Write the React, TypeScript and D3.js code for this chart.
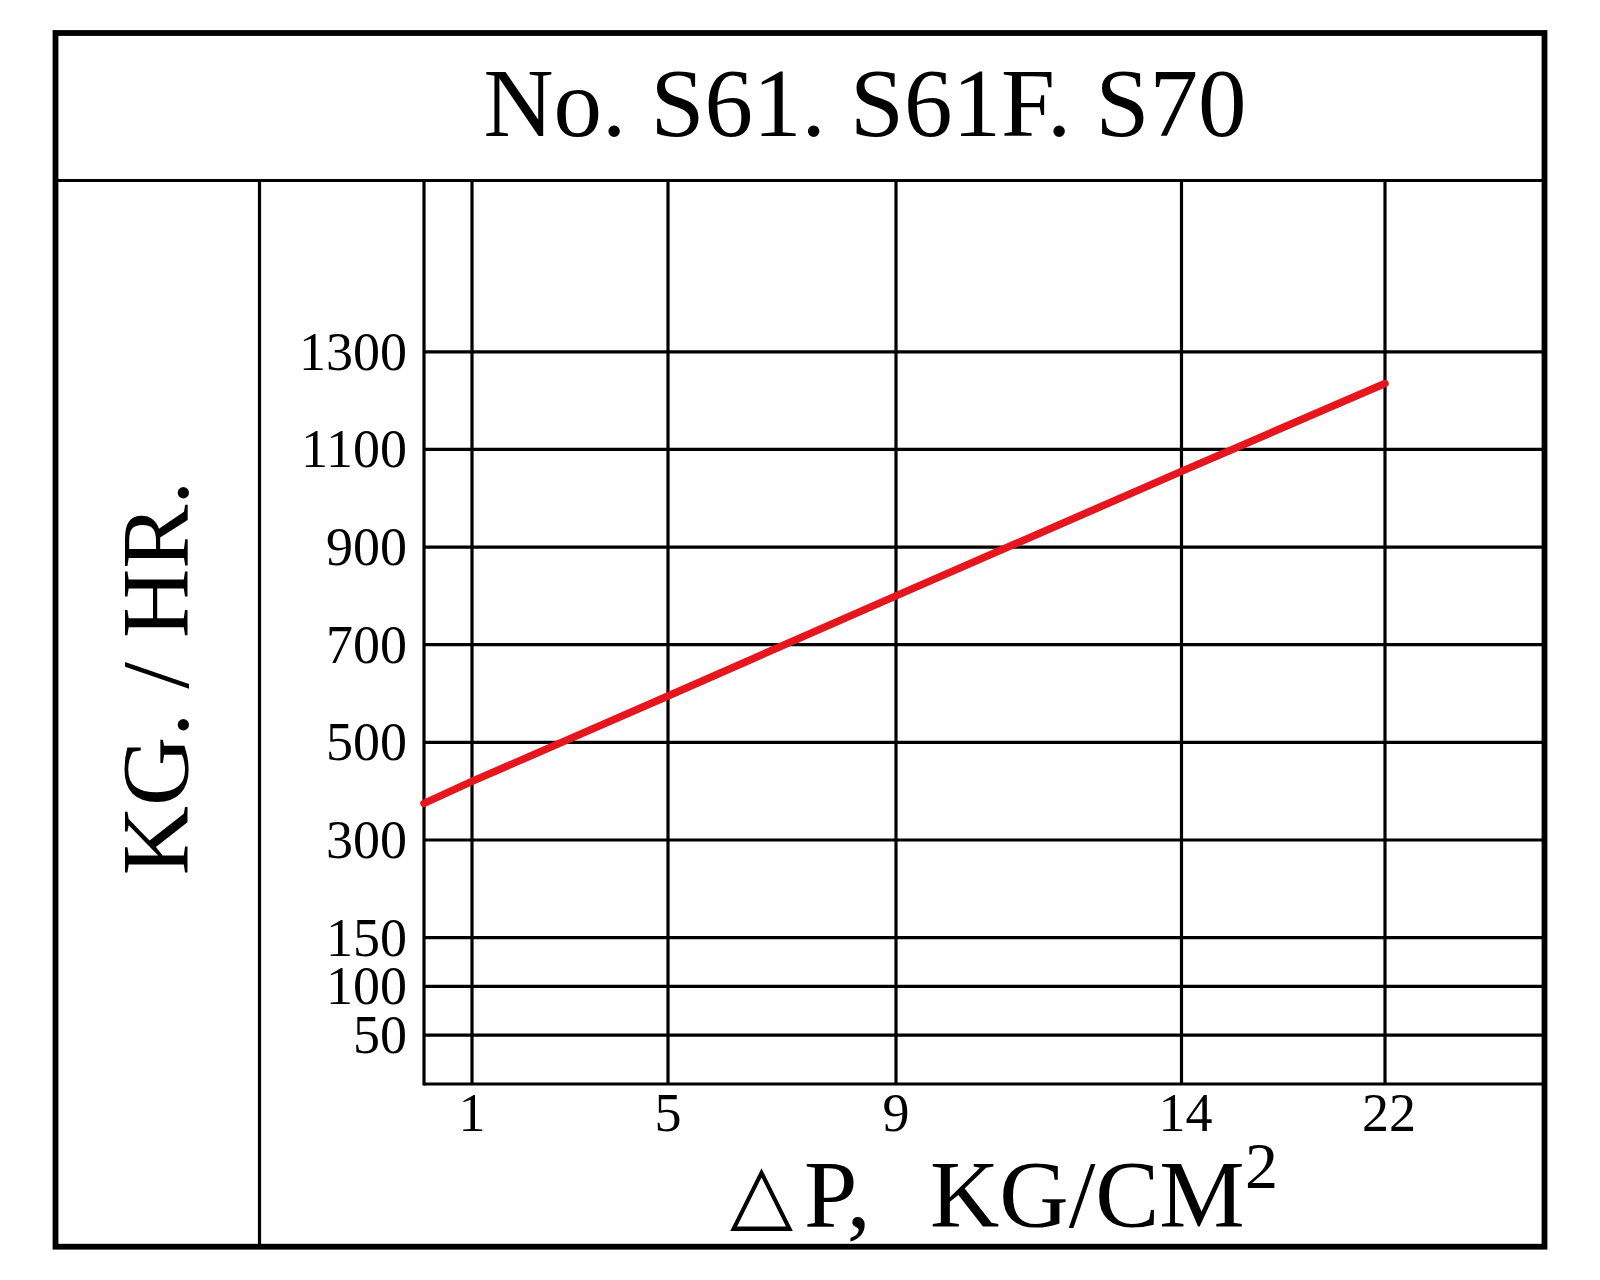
import React from "react";
import * as d3 from "d3";

// ---- data ----
const titleText = "No. S61. S61F. S70";
const yAxisLabel = "KG. / HR.";
const xTicks = [1, 5, 9, 14, 22];
const yTicks = [50, 100, 150, 300, 500, 700, 900, 1100, 1300];
const flowX = [0, 1, 5, 9, 14, 22];
const flowY = [375, 420, 595, 800, 1055, 1235];

// ---- layout ----
const W = 1600;
const H = 1280;
const frame = { x0: 55.5, y0: 33, x1: 1544.5, y1: 1246.7 };
const titleDivY = 180.5;
const labelColX = 259.5;
const plot = { left: 424, top: 180.5, right: 1544.5, bottom: 1084 };

// non-uniform chart paper scales (piecewise linear)
const xScale = d3
  .scaleLinear()
  .domain([0, 1, 5, 9, 14, 22])
  .range([424, 472, 668, 896, 1181.5, 1385]);
const yScale = d3
  .scaleLinear()
  .domain([0, 150, 300, 1300])
  .range([1084, 937.6, 840, 351.8]);

const SERIF = "'Liberation Serif', 'Times New Roman', Times, serif";
const GRID_W = 3.2;

export default function App() {
  const pts: [number, number][] = flowX.map((x, i) => [x, flowY[i]]);
  const lineGen = d3
    .line<[number, number]>()
    .x((d) => xScale(d[0]))
    .y((d) => yScale(d[1]));

  return (
    <svg
      width={W}
      height={H}
      viewBox={`0 0 ${W} ${H}`}
      style={{ position: "absolute", left: 0, top: 0, display: "block", background: "#fff" }}
    >
      <rect x={0} y={0} width={W} height={H} fill="#fff" />

      {/* grid: horizontal */}
      {yTicks.map((t) => (
        <line
          key={`h${t}`}
          x1={plot.left}
          x2={plot.right}
          y1={yScale(t)}
          y2={yScale(t)}
          stroke="#000"
          strokeWidth={GRID_W}
        />
      ))}
      {/* grid: vertical */}
      {xTicks.map((t) => (
        <line
          key={`v${t}`}
          x1={xScale(t)}
          x2={xScale(t)}
          y1={plot.top}
          y2={plot.bottom}
          stroke="#000"
          strokeWidth={GRID_W}
        />
      ))}
      {/* axes */}
      <line x1={plot.left} x2={plot.left} y1={plot.top} y2={plot.bottom + 1.6} stroke="#000" strokeWidth={GRID_W} />
      <line x1={plot.left} x2={plot.right} y1={plot.bottom} y2={plot.bottom} stroke="#000" strokeWidth={GRID_W} />

      {/* data line */}
      <path
        d={lineGen(pts) || ""}
        fill="none"
        stroke="#e5161d"
        strokeWidth={7.5}
        strokeLinecap="round"
        strokeLinejoin="round"
      />

      {/* frame pieces */}
      <line x1={frame.x0} x2={frame.x1} y1={titleDivY} y2={titleDivY} stroke="#000" strokeWidth={3.2} />
      <line x1={labelColX} x2={labelColX} y1={titleDivY} y2={frame.y1} stroke="#000" strokeWidth={3.2} />
      <rect
        x={frame.x0}
        y={frame.y0}
        width={frame.x1 - frame.x0}
        height={frame.y1 - frame.y0}
        fill="none"
        stroke="#000"
        strokeWidth={5.8}
      />

      {/* y tick labels */}
      {yTicks.map((t) => (
        <text
          key={`yl${t}`}
          x={407}
          y={yScale(t) + 18}
          textAnchor="end"
          fontFamily={SERIF}
          fontSize={54}
          fill="#000"
        >
          {t}
        </text>
      ))}
      {/* x tick labels */}
      {xTicks.map((t) => (
        <text
          key={`xl${t}`}
          x={xScale(t) + (t >= 10 ? 4 : 0)}
          y={1131}
          textAnchor="middle"
          fontFamily={SERIF}
          fontSize={54}
          fill="#000"
        >
          {t}
        </text>
      ))}

      {/* title */}
      <text x={865} y={136} textAnchor="middle" fontFamily={SERIF} fontSize={97} fill="#000">
        {titleText}
      </text>

      {/* y axis label */}
      <text
        transform="translate(188,678) rotate(-90)"
        textAnchor="middle"
        fontFamily={SERIF}
        fontSize={96}
        fill="#000"
      >
        {yAxisLabel}
      </text>

      {/* x axis label: △P,  KG/CM² */}
      <text x={730} y={1221} fontFamily="'DejaVu Sans', sans-serif" fontSize={82} fill="#000">
        {"\u25B3"}
      </text>
      <text x={804} y={1227} fontFamily={SERIF} fontSize={96} fill="#000">
        {"P,"}
      </text>
      <text x={930} y={1227} fontFamily={SERIF} fontSize={96} fill="#000">
        {"KG/CM"}
      </text>
      <text x={1245} y={1188} fontFamily={SERIF} fontSize={66} fill="#000">
        2
      </text>
    </svg>
  );
}
